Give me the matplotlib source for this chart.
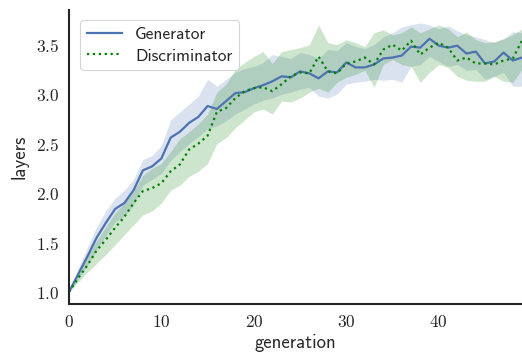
import matplotlib
matplotlib.use("Agg")
import matplotlib.pyplot as plt
import numpy as np
from matplotlib.ticker import FuncFormatter, MultipleLocator

generation = np.arange(50)

gen_mean = [1.00, 1.18, 1.36, 1.55, 1.70, 1.84, 1.90, 2.03, 2.23, 2.27,
            2.35, 2.56, 2.62, 2.71, 2.77, 2.88, 2.85, 2.93, 3.01, 3.02,
            3.06, 3.09, 3.13, 3.18, 3.17, 3.23, 3.21, 3.16, 3.23, 3.22,
            3.32, 3.27, 3.27, 3.30, 3.36, 3.37, 3.39, 3.48, 3.47, 3.56,
            3.49, 3.47, 3.49, 3.41, 3.43, 3.31, 3.33, 3.42, 3.34, 3.37]
gen_lo = [1.00, 1.13, 1.27, 1.43, 1.57, 1.71, 1.77, 1.88, 2.08, 2.14,
          2.20, 2.33, 2.42, 2.50, 2.57, 2.65, 2.68, 2.73, 2.80, 2.85,
          2.90, 2.94, 2.96, 3.00, 3.02, 3.05, 3.07, 2.98, 2.96, 3.00,
          3.10, 3.12, 3.13, 3.15, 3.14, 3.15, 3.12, 3.28, 3.30, 3.38,
          3.33, 3.28, 3.30, 3.24, 3.25, 3.15, 3.18, 3.22, 3.08, 3.08]
gen_hi = [1.00, 1.24, 1.45, 1.66, 1.82, 1.95, 2.03, 2.14, 2.34, 2.38,
          2.48, 2.74, 2.82, 2.90, 2.98, 3.15, 3.08, 3.15, 3.22, 3.26,
          3.28, 3.32, 3.40, 3.38, 3.36, 3.42, 3.40, 3.36, 3.45, 3.44,
          3.52, 3.48, 3.46, 3.50, 3.58, 3.62, 3.68, 3.70, 3.72, 3.70,
          3.66, 3.69, 3.64, 3.60, 3.58, 3.55, 3.52, 3.56, 3.63, 3.62]

dis_mean = [1.00, 1.14, 1.27, 1.42, 1.53, 1.65, 1.76, 1.90, 2.02, 2.05,
            2.10, 2.22, 2.29, 2.44, 2.50, 2.58, 2.82, 2.86, 2.96, 3.03,
            3.06, 3.07, 3.03, 3.10, 3.18, 3.22, 3.21, 3.38, 3.23, 3.21,
            3.31, 3.33, 3.37, 3.30, 3.45, 3.50, 3.44, 3.54, 3.40, 3.47,
            3.52, 3.47, 3.34, 3.37, 3.31, 3.31, 3.30, 3.34, 3.36, 3.54]
dis_lo = [1.00, 1.10, 1.20, 1.29, 1.38, 1.48, 1.58, 1.68, 1.78, 1.82,
          1.90, 2.03, 2.08, 2.17, 2.22, 2.30, 2.50, 2.56, 2.66, 2.74,
          2.82, 2.85, 2.80, 2.93, 2.92, 2.96, 3.02, 3.06, 3.02, 3.12,
          3.17, 3.20, 3.24, 3.07, 3.30, 3.35, 3.30, 3.28, 3.12, 3.22,
          3.30, 3.27, 3.18, 3.14, 3.13, 3.13, 3.18, 3.13, 3.12, 3.25]
dis_hi = [1.00, 1.20, 1.36, 1.52, 1.66, 1.80, 1.90, 2.02, 2.18, 2.25,
          2.30, 2.42, 2.55, 2.62, 2.70, 2.80, 3.02, 3.10, 3.25, 3.32,
          3.38, 3.43, 3.31, 3.43, 3.45, 3.47, 3.50, 3.70, 3.52, 3.50,
          3.55, 3.52, 3.48, 3.62, 3.65, 3.60, 3.62, 3.68, 3.62, 3.66,
          3.70, 3.66, 3.58, 3.63, 3.55, 3.52, 3.53, 3.56, 3.60, 3.66]

plt.rcParams["mathtext.fontset"] = "cm"
plt.rcParams["font.family"] = ["cmss10", "DejaVu Sans"]
plt.rcParams["axes.unicode_minus"] = False

blue = "#4C72B0"
green = "green"
ink = "#262626"

fig = plt.figure(figsize=(5.22, 3.58), dpi=100)
ax = fig.add_axes([0.132, 0.151, 0.868, 0.821])

# shaded spread per run, mean on top
ax.fill_between(generation, gen_lo, gen_hi, color=blue, alpha=0.2, linewidth=0)
ax.fill_between(generation, dis_lo, dis_hi, color=green, alpha=0.2, linewidth=0)
ax.plot(generation, gen_mean, color=blue, lw=1.6, label="Generator")
ax.plot(generation, dis_mean, color=green, lw=1.6, ls=":", label="Discriminator")

ax.set_xlim(0, 49)
ax.set_ylim(0.88, 3.85)
ax.xaxis.set_major_locator(MultipleLocator(10))
ax.yaxis.set_major_locator(MultipleLocator(0.5))
ax.xaxis.set_major_formatter(FuncFormatter(lambda v, _: r"$%d$" % v))
ax.yaxis.set_major_formatter(FuncFormatter(lambda v, _: r"$%.1f$" % v))
ax.tick_params(axis="both", length=0, labelsize=12.5, pad=7, colors=ink)

for side in ("top", "right"):
    ax.spines[side].set_visible(False)
for side in ("left", "bottom"):
    ax.spines[side].set_color(ink)
    ax.spines[side].set_linewidth(1.5)

ax.set_xlabel("generation", fontsize=13.5, color=ink, labelpad=3)
ax.set_ylabel("layers", fontsize=13.5, color=ink, labelpad=5)

leg = ax.legend(loc="upper left", fontsize=12.5, frameon=True, fancybox=True,
                borderpad=0.4, handlelength=2.0, handletextpad=0.75,
                labelspacing=0.35, bbox_to_anchor=(0.006, 0.995))
leg.get_frame().set_edgecolor("#cccccc")
leg.get_frame().set_linewidth(0.8)
for text in leg.get_texts():
    text.set_color(ink)

fig.savefig("out.png", dpi=100)
